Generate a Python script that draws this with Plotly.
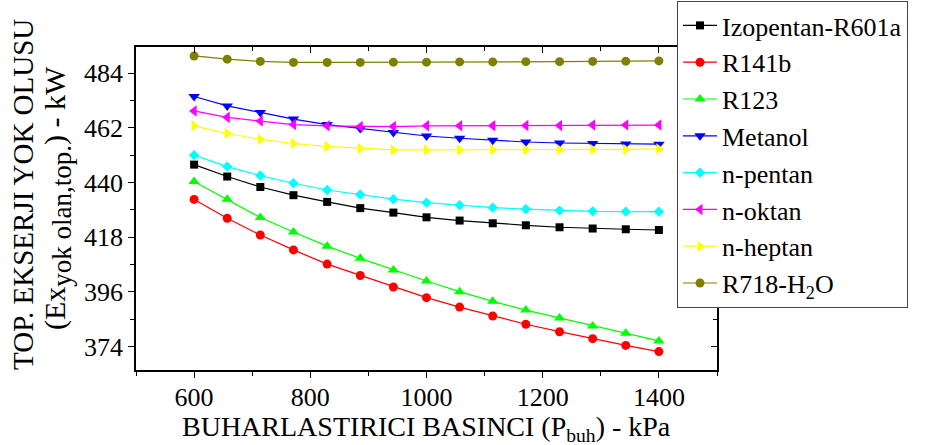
import plotly.graph_objects as go

pressure = [600, 657, 714, 771, 829, 886, 943, 1000, 1057, 1114, 1171, 1229, 1286, 1343, 1400]

series_names = ["Izopentan-R601a", "R141b", "R123", "Metanol", "n-pentan",
                "n-oktan", "n-heptan", "R718-H<sub>2</sub>O"]

izopentan = [447.2, 442.4, 438.2, 434.9, 432.2, 429.7, 427.9, 426.0, 424.7, 423.6, 422.8, 422.0, 421.5, 421.2, 420.9]
r141b = [433.2, 425.6, 418.9, 412.9, 407.2, 402.6, 398.0, 393.7, 389.9, 386.3, 383.0, 380.0, 377.2, 374.5, 372.0]
r123 = [440.4, 433.3, 425.9, 420.1, 414.4, 409.5, 404.8, 400.4, 396.1, 392.2, 388.7, 385.5, 382.3, 379.4, 376.3]
metanol = [474.6, 470.8, 468.2, 465.5, 463.3, 461.7, 460.1, 458.7, 457.8, 457.0, 456.3, 455.9, 455.7, 455.5, 455.4]
npentan = [451.0, 446.4, 442.8, 439.7, 437.0, 435.2, 433.3, 431.9, 430.9, 429.9, 429.3, 428.7, 428.4, 428.3, 428.3]
noktan = [468.8, 466.2, 464.7, 463.3, 462.8, 462.5, 462.5, 462.8, 462.8, 462.8, 462.9, 462.9, 463.1, 463.1, 463.1]
nheptan = [462.8, 459.7, 457.4, 455.7, 454.5, 453.7, 453.1, 453.1, 453.1, 453.2, 453.2, 453.2, 453.3, 453.3, 453.5]
r718 = [490.9, 489.6, 488.7, 488.3, 488.3, 488.3, 488.4, 488.4, 488.5, 488.5, 488.6, 488.6, 488.7, 488.8, 488.9]

values = [izopentan, r141b, r123, metanol, npentan, noktan, nheptan, r718]
colors = ["#000000", "#FF0000", "#00FF00", "#0000FF", "#00FFFF", "#FF00FF", "#FFFF00", "#808000"]
symbols = ["square", "circle", "triangle-up", "triangle-down", "diamond",
           "triangle-left", "triangle-right", "circle"]
sizes = [8, 9, 10, 10, 8, 10, 10, 9]

x_ticks = [600, 800, 1000, 1200, 1400]
y_ticks = [374, 396, 418, 440, 462, 484]
x_range = [500, 1500]
y_range = [364.6, 494.5]

x_title = "BUHARLASTIRICI BASINCI (P<sub>buh</sub>) - kPa"
y_title_1 = "TOP. EKSERJI YOK OLUSU"
y_title_2 = "(Ex<sub><span style='font-size:27px'>yok olan,top.</span></sub>) - kW"

FONT = "Liberation Serif"
W, H = 925, 445
ML, MR, MT, MB = 136, 208, 47, 75
PW, PH = W - ML - MR, H - MT - MB


def px_x(px):
    return (px - ML) / PW


def px_y(py):
    return (H - MB - py) / PH


fig = go.Figure()
for name, vals, c, s, sz in zip(series_names, values, colors, symbols, sizes):
    fig.add_trace(go.Scatter(
        x=pressure, y=vals, name=name, mode="lines+markers",
        line=dict(color=c, width=1.2),
        marker=dict(symbol=s, color=c, size=sz, line=dict(width=0)),
    ))

# empty trace so the mirrored axes are drawn
fig.add_trace(go.Scatter(x=[], y=[], xaxis="x2", yaxis="y2", showlegend=False, hoverinfo="skip"))

tick_font = dict(family=FONT, size=26, color="black")

fig.update_layout(
    width=W, height=H,
    margin=dict(l=ML, r=MR, t=MT, b=MB, autoexpand=False),
    paper_bgcolor="white", plot_bgcolor="white",
    font=dict(family=FONT, size=26, color="black"),
    showlegend=True,
    legend=dict(
        x=px_x(677), y=px_y(1), xanchor="left", yanchor="top",
        bgcolor="white", bordercolor="#444444", borderwidth=1,
        font=dict(family=FONT, size=26, color="black"),
        maxheight=440, itemwidth=34,
    ),
    xaxis=dict(
        range=x_range, tickvals=x_ticks, ticktext=[str(v) for v in x_ticks],
        ticks="outside", ticklen=6, tickwidth=1, tickcolor="black",
        showline=True, linecolor="black", linewidth=1.5,
        showgrid=False, zeroline=False, tickfont=tick_font, automargin=False,
        ticklabelstandoff=-3,
        minor=dict(dtick=100, tick0=500, ticks="outside", ticklen=4, tickcolor="black", showgrid=False),
    ),
    yaxis=dict(
        range=y_range, tickvals=y_ticks, ticktext=[str(v) for v in y_ticks],
        ticks="outside", ticklen=6, tickwidth=1, tickcolor="black",
        showline=True, linecolor="black", linewidth=1.5,
        showgrid=False, zeroline=False, tickfont=tick_font, automargin=False,
        minor=dict(dtick=11, tick0=363, ticks="outside", ticklen=4, tickcolor="black", showgrid=False),
    ),
    xaxis2=dict(
        overlaying="x", side="top", range=x_range, tickvals=x_ticks, showticklabels=False,
        ticks="inside", ticklen=6, tickcolor="black", showline=True, linecolor="black", linewidth=1.5,
        showgrid=False, zeroline=False, automargin=False,
        minor=dict(dtick=100, tick0=500, ticks="inside", ticklen=4, tickcolor="black", showgrid=False),
    ),
    yaxis2=dict(
        overlaying="y", side="right", range=y_range, tickvals=y_ticks, showticklabels=False,
        ticks="inside", ticklen=6, tickcolor="black", showline=True, linecolor="black", linewidth=1.5,
        showgrid=False, zeroline=False, automargin=False,
        minor=dict(dtick=11, tick0=363, ticks="inside", ticklen=4, tickcolor="black", showgrid=False),
    ),
    annotations=[
        dict(text=x_title, xref="paper", yref="paper", x=px_x(426), y=px_y(428),
             xanchor="center", yanchor="middle", showarrow=False,
             font=dict(family=FONT, size=28, color="black")),
        dict(text=y_title_1, xref="paper", yref="paper", x=px_x(23), y=px_y(195),
             xanchor="center", yanchor="middle", showarrow=False, textangle=-90,
             font=dict(family=FONT, size=29, color="black")),
        dict(text=y_title_2, xref="paper", yref="paper", x=px_x(57), y=px_y(198),
             xanchor="center", yanchor="middle", showarrow=False, textangle=-90,
             font=dict(family=FONT, size=30, color="black")),
    ],
)

fig.write_html("out.html")
